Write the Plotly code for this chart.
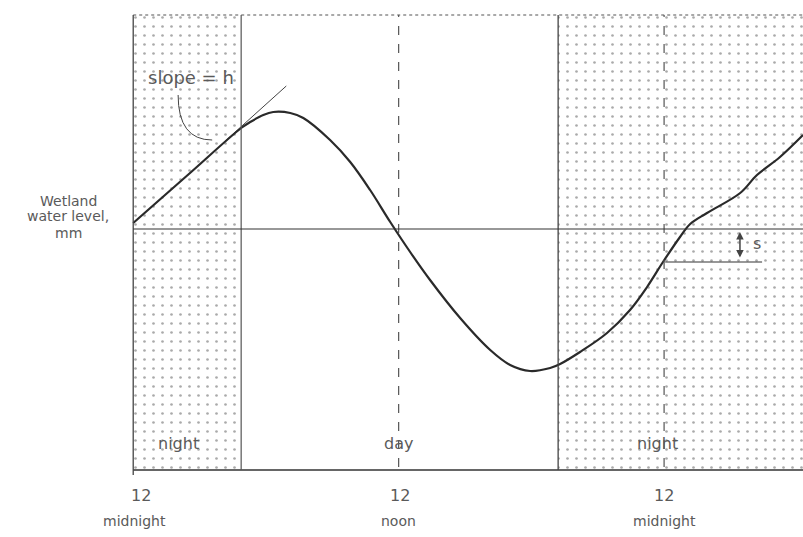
import plotly.graph_objects as go

# ---- data (hours after midnight, relative water level) ----
hours = [0, 2.44, 4.88, 5.29, 5.88, 6.33, 7.10, 7.69, 8.90, 9.81, 10.71, 11.62, 12.52, 13.42,
         14.78, 16.14, 17.04, 17.94, 18.85, 19.30, 20.20, 21.42, 22.46, 23.23, 23.95,
         24.72, 25.18, 25.94, 27.44, 28.20, 29.24, 30.28]
level = [24.7, 29.45, 34.2, 34.8, 35.5, 35.8, 35.7, 35.2, 33.0, 30.8, 28.0, 24.8, 21.8, 19.0,
         15.2, 12.0, 10.5, 9.9, 10.2, 10.6, 11.8, 13.7, 16.0, 18.3, 20.8,
         23.3, 24.6, 25.7, 27.7, 29.5, 31.3, 33.5]

night_spans = [(0, 4.88), (19.21, 30.4)]
night_labels_x = [2.04, 23.7]
day_label_x = 12.0
tick_hours = [0, 12, 24]
tick_top = ["12", "12", "12"]
tick_bottom = ["midnight", "noon", "midnight"]
tick_top_x = [0.36, 12.05, 24.0]
tick_bottom_x = [0.05, 12.0, 24.0]
ylabel_lines = ["Wetland", "water level,", "mm"]
ref_level = 24.1        # horizontal reference level
s_level = 20.8          # level after drop s
tangent_x = [4.16, 6.92]
tangent_y = [32.9, 38.4]

X0, X1 = -0.1, 30.28
Y0, Y1 = -0.5, 45.7
TOP = 45.5
TXT = "#5a5a5a"
LN = "#2a2a2a"
FONT = "DejaVu Sans, Arial, sans-serif"


def pxx(x):
    return (x - X0) / (X1 - X0)


def pyy(y):
    return (y - Y0) / (Y1 - Y0)


def label(x, y, text, size):
    return dict(x=pxx(x), y=pyy(y), text=text, showarrow=False, xref="paper", yref="paper",
                xanchor="center", yanchor="middle",
                font=dict(size=size, color=TXT, family=FONT))


fig = go.Figure()

# stippled night regions
for a, b in night_spans:
    fig.add_trace(go.Scatter(
        x=[a, b, b, a, a], y=[0, 0, TOP, TOP, 0], mode="lines",
        line=dict(width=0), fill="toself", fillcolor="white",
        fillpattern=dict(shape=".", size=9, solidity=0.07, fgcolor="#555555", bgcolor="white"),
        hoverinfo="skip", showlegend=False))

# tangent line
fig.add_trace(go.Scatter(x=tangent_x, y=tangent_y, mode="lines",
                         line=dict(color="#444", width=1), showlegend=False, hoverinfo="skip"))

# water level curve
fig.add_trace(go.Scatter(x=hours, y=level, mode="lines",
                         line=dict(color=LN, width=2.2, shape="spline", smoothing=1.0),
                         showlegend=False, hoverinfo="skip"))

shapes = []
# frame
shapes.append(dict(type="line", x0=0, x1=X1, y0=TOP, y1=TOP, xref="x", yref="y",
                   line=dict(color="#555", width=1.2, dash="dot")))
shapes.append(dict(type="line", x0=0, x1=X1, y0=0, y1=0, xref="x", yref="y",
                   line=dict(color="#333", width=1.3)))
shapes.append(dict(type="line", x0=0, x1=0, y0=-0.5, y1=TOP, xref="x", yref="y",
                   line=dict(color="#444", width=1.3)))
# night borders
shapes.append(dict(type="line", x0=4.88, x1=4.88, y0=0, y1=TOP, xref="x", yref="y",
                   line=dict(color="#555", width=1.2)))
shapes.append(dict(type="line", x0=19.21, x1=19.21, y0=0, y1=TOP, xref="x", yref="y",
                   line=dict(color="#444", width=1.3)))
# noon & midnight dashed lines
for h in [12, 24]:
    shapes.append(dict(type="line", x0=h, x1=h, y0=-1.5, y1=TOP, xref="x", yref="y",
                       line=dict(color="#555", width=1.2, dash="dash")))
# reference level & s level
shapes.append(dict(type="line", x0=0, x1=X1, y0=ref_level, y1=ref_level, xref="x", yref="y",
                   line=dict(color="#333", width=1.2)))
shapes.append(dict(type="line", x0=24.05, x1=28.43, y0=s_level, y1=s_level, xref="x", yref="y",
                   line=dict(color="#333", width=1.2)))
# leader arc for slope label
shapes.append(dict(type="path", path="M 2.03,37.5 Q 2.03,33.0 3.57,33.0", xref="x", yref="y",
                   line=dict(color="#444", width=1)))
fig.update_layout(shapes=shapes)

ann = []
ann.append(label(2.62, 39.2, "slope = h", 18))
for xn in night_labels_x:
    ann.append(label(xn, 2.7, "night", 16))
ann.append(label(day_label_x, 2.7, "day", 16))
for xt, xb, t1, t2 in zip(tick_top_x, tick_bottom_x, tick_top, tick_bottom):
    ann.append(label(xt, -2.5, t1, 16))
    ann.append(label(xb, -5.1, t2, 14))
for txt, yy in zip(ylabel_lines, [26.9, 25.4, 23.7]):
    ann.append(label(-2.94, yy, txt, 14))
# s arrow
ann.append(dict(x=27.43, y=ref_level - 0.3, ax=27.43, ay=s_level + 0.3, axref="x", ayref="y",
                xref="x", yref="y", text="", showarrow=True, arrowhead=2, arrowside="end+start",
                arrowsize=1, arrowwidth=1.5, arrowcolor="#444"))
ann.append(label(28.2, 22.7, "s", 16))
fig.update_layout(annotations=ann)

fig.update_layout(
    width=803, height=537,
    margin=dict(l=131, r=0, t=13, b=62),
    paper_bgcolor="white", plot_bgcolor="white",
    xaxis=dict(range=[X0, X1], visible=False, fixedrange=True),
    yaxis=dict(range=[Y0, Y1], visible=False, fixedrange=True),
)

fig.write_html("out.html", config={"displayModeBar": False},
               post_script="document.body.style.margin='0';")
